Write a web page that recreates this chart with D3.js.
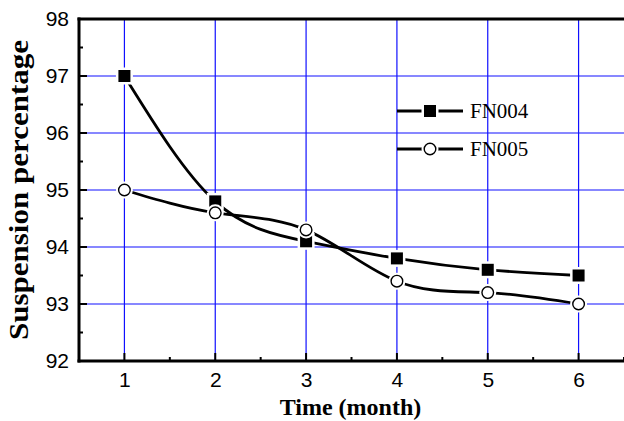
<!DOCTYPE html>
<html>
<head>
<meta charset="utf-8">
<script src="https://cdn.jsdelivr.net/npm/d3@7"></script>
<style>
  body { margin: 0; background: #fff; }
  svg { display: block; }
</style>
</head>
<body>
<script>
// values
var months = [1, 2, 3, 4, 5, 6];
var fn004 = [97.0, 94.8, 94.1, 93.8, 93.6, 93.5];
var fn005 = [95.0, 94.6, 94.3, 93.4, 93.2, 93.0];
var seriesNames = ["FN004", "FN005"];
var yTicks = [92, 93, 94, 95, 96, 97, 98];
var xTicks = [1, 2, 3, 4, 5, 6];

var width = 624, height = 421;
var margin = {top: 19, right: 0, bottom: 60, left: 79};

var svg = d3.select("body").append("svg")
    .attr("width", width)
    .attr("height", height);

var x = d3.scaleLinear().domain([0.5, 6.5]).range([margin.left, width - margin.right]);
var y = d3.scaleLinear().domain([92, 98]).range([height - margin.bottom, margin.top]);

// grid (blue)
var grid = svg.append("g");
grid.selectAll(".vg").data(xTicks).enter().append("line")
    .attr("x1", function (d) { return x(d); })
    .attr("x2", function (d) { return x(d); })
    .attr("y1", y(92)).attr("y2", y(98))
    .attr("stroke", "#1010ff").attr("stroke-width", 1.2);
grid.selectAll(".hg").data(yTicks.slice(1, -1)).enter().append("line")
    .attr("y1", function (d) { return y(d); })
    .attr("y2", function (d) { return y(d); })
    .attr("x1", x(0.5)).attr("x2", x(6.5))
    .attr("stroke", "#1010ff").attr("stroke-width", 1.2);

// axes, labels only; ticks drawn inward below
var yAxis = d3.axisLeft(y).tickValues(yTicks).tickSize(0).tickPadding(10).tickFormat(d3.format("d"));
var xAxis = d3.axisBottom(x).tickValues(xTicks).tickSize(0).tickPadding(11).tickFormat(d3.format("d"));

var gy = svg.append("g").attr("transform", "translate(" + margin.left + ",0)").call(yAxis);
var gx = svg.append("g").attr("transform", "translate(0," + (height - margin.bottom) + ")").call(xAxis);
[gx, gy].forEach(function (g) {
    g.select(".domain").remove();
    g.attr("font-size", 21).attr("font-family", "Liberation Sans, Arial, sans-serif");
    g.selectAll("text").attr("fill", "#000");
});

var tickG = svg.append("g").attr("stroke", "#000").attr("stroke-width", 2);
d3.range(92, 98.01, 0.5).forEach(function (v) {
    var len = (Math.abs(v - Math.round(v)) < 0.01) ? 8 : 4;
    tickG.append("line")
        .attr("x1", margin.left).attr("x2", margin.left + len)
        .attr("y1", y(v)).attr("y2", y(v));
});
d3.range(1, 6.51, 0.5).forEach(function (v) {
    var len = (Math.abs(v - Math.round(v)) < 0.01) ? 8 : 4;
    tickG.append("line")
        .attr("y1", y(92)).attr("y2", y(92) - len)
        .attr("x1", x(v)).attr("x2", x(v));
});

// frame
svg.append("line").attr("x1", margin.left).attr("x2", margin.left)
    .attr("y1", y(92) + 1.5).attr("y2", y(98) - 1.5)
    .attr("stroke", "#000").attr("stroke-width", 3);
svg.append("line").attr("x1", margin.left - 1.5).attr("x2", width)
    .attr("y1", y(92)).attr("y2", y(92))
    .attr("stroke", "#000").attr("stroke-width", 3);
svg.append("line").attr("x1", margin.left - 1.5).attr("x2", width)
    .attr("y1", y(98)).attr("y2", y(98))
    .attr("stroke", "#000").attr("stroke-width", 3);

// curves
var line = d3.line()
    .x(function (d, i) { return x(months[i]); })
    .y(function (d) { return y(d); })
    .curve(d3.curveNatural);

var plot = svg.append("g");
[fn004, fn005].forEach(function (vals) {
    plot.append("path")
        .datum(vals)
        .attr("d", line)
        .attr("fill", "none")
        .attr("stroke", "#000")
        .attr("stroke-width", 2.8);
});

function drawSquare(g, cx, cy) {
    g.append("rect").attr("x", cx - 8.5).attr("y", cy - 8.5).attr("width", 17).attr("height", 17)
        .attr("fill", "#fff");
    g.append("rect").attr("x", cx - 6).attr("y", cy - 6).attr("width", 12).attr("height", 12)
        .attr("fill", "#000");
}
function drawCircle(g, cx, cy) {
    g.append("circle").attr("cx", cx).attr("cy", cy).attr("r", 8.5).attr("fill", "#fff");
    g.append("circle").attr("cx", cx).attr("cy", cy).attr("r", 5.8)
        .attr("fill", "#fff").attr("stroke", "#000").attr("stroke-width", 1.4);
}

var marks = svg.append("g");
fn004.forEach(function (v, i) { drawSquare(marks, x(months[i]), y(v)); });
fn005.forEach(function (v, i) { drawCircle(marks, x(months[i]), y(v)); });

// legend
var legend = svg.append("g");
var legendRows = [
    {name: seriesNames[0], yy: 111, draw: drawSquare},
    {name: seriesNames[1], yy: 149, draw: drawCircle}
];
legendRows.forEach(function (r) {
    legend.append("line").attr("x1", 397).attr("x2", 463)
        .attr("y1", r.yy).attr("y2", r.yy)
        .attr("stroke", "#000").attr("stroke-width", 2.8);
    r.draw(legend, 430, r.yy);
    legend.append("text").attr("x", 470).attr("y", r.yy + 7)
        .attr("font-family", "Liberation Serif, Times New Roman, serif")
        .attr("font-size", 21)
        .text(r.name);
});

// axis titles
svg.append("text")
    .attr("x", (x(0.5) + x(6.5)) / 2 - 1)
    .attr("y", 415)
    .attr("text-anchor", "middle")
    .attr("font-family", "Liberation Serif, Times New Roman, serif")
    .attr("font-weight", "bold")
    .attr("font-size", 24)
    .text("Time (month)");

svg.append("text")
    .attr("transform", "translate(28," + ((y(92) + y(98)) / 2) + ") rotate(-90)")
    .attr("text-anchor", "middle")
    .attr("font-family", "Liberation Serif, Times New Roman, serif")
    .attr("font-weight", "bold")
    .attr("font-size", 27)
    .attr("textLength", 300)
    .attr("lengthAdjust", "spacingAndGlyphs")
    .text("Suspension percentage");
</script>
</body>
</html>
